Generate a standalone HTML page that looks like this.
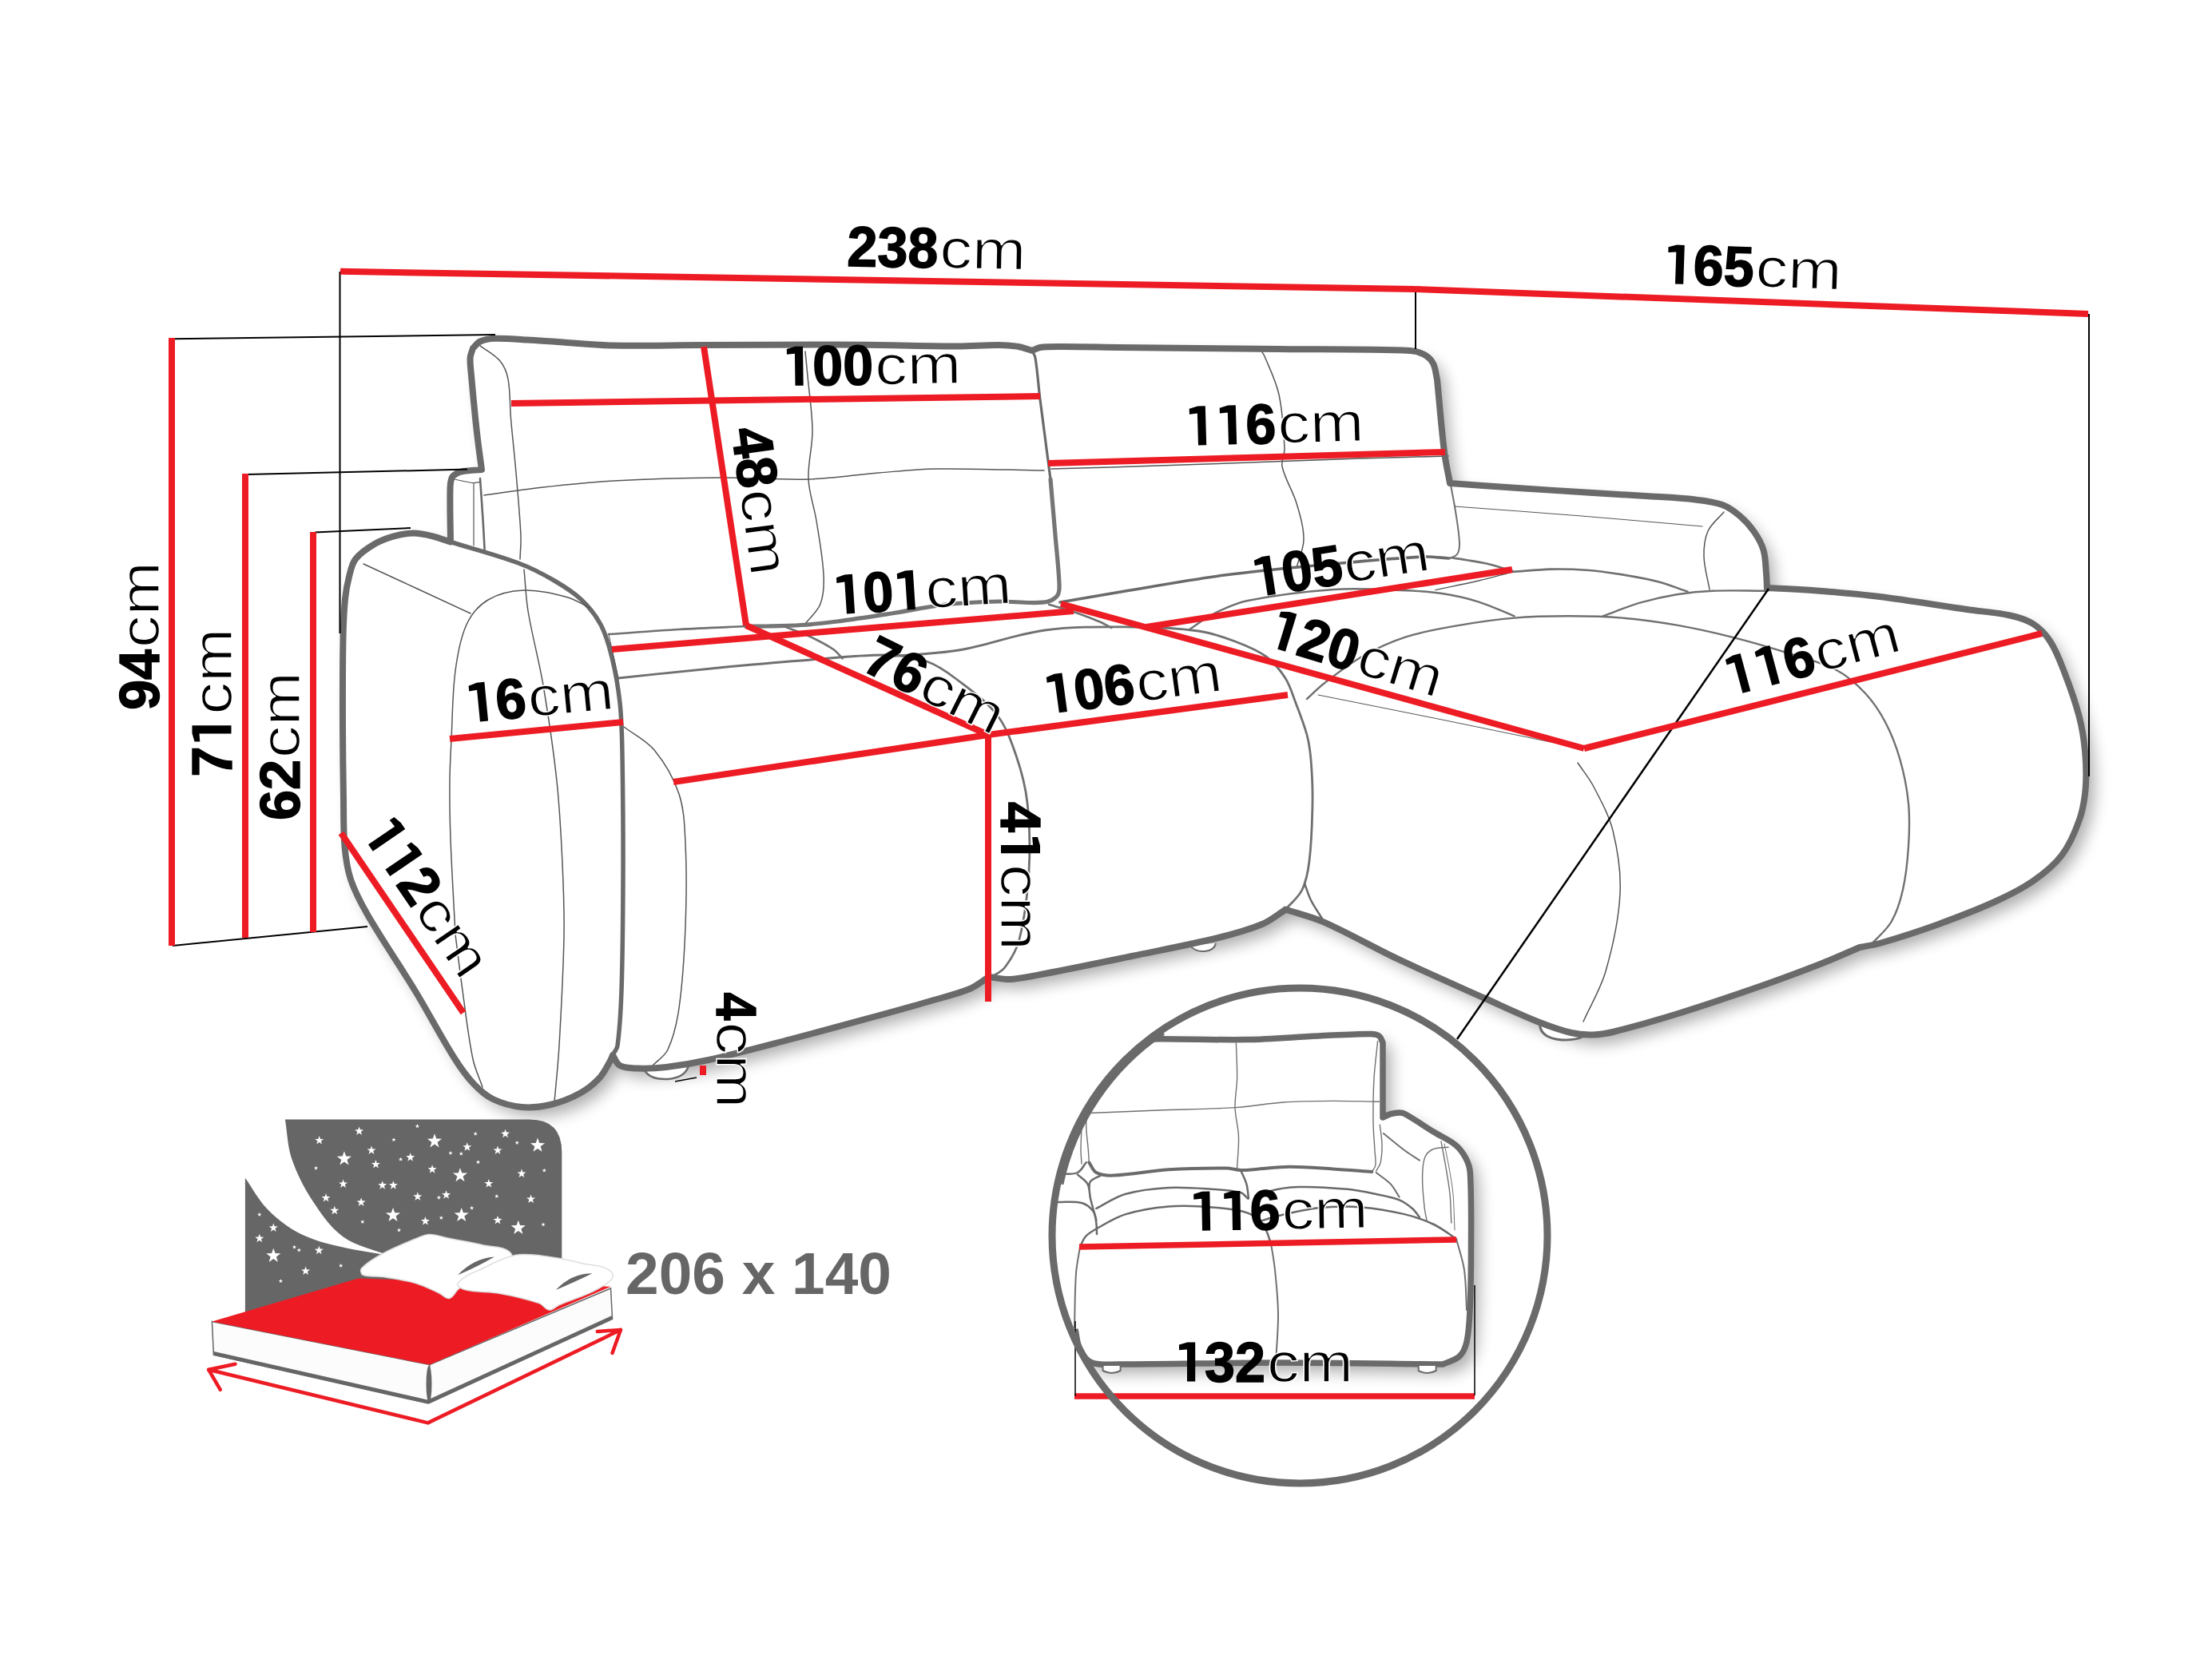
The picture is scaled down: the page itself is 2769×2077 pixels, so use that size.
<!DOCTYPE html>
<html><head><meta charset="utf-8"><title>sofa dimensions</title>
<style>
html,body{margin:0;padding:0;background:#fff;}
body{width:2769px;height:2077px;overflow:hidden;}
svg{display:block;}
text{font-family:"Liberation Sans",sans-serif;}
</style></head><body>
<svg width="2769" height="2077" viewBox="0 0 2769 2077">
<defs>
<filter id="sh" x="-5%" y="-8%" width="112%" height="118%"><feGaussianBlur in="SourceAlpha" stdDeviation="10"/><feOffset dx="10" dy="11" result="b"/><feComponentTransfer><feFuncA type="linear" slope="0.33"/></feComponentTransfer><feMerge><feMergeNode/><feMergeNode in="SourceGraphic"/></feMerge></filter>
<clipPath id="cc"><circle cx="1627" cy="1547" r="306.5"/></clipPath>
<path id="st" d="M0,-10 L2.35,-3.24 L9.51,-3.09 L3.8,1.24 L5.88,8.09 L0,4 L-5.88,8.09 L-3.8,1.24 L-9.51,-3.09 L-2.35,-3.24 Z"/>
</defs>
<rect width="2769" height="2077" fill="#fff"/>
<path d="M592.0,436.0C595.0,433.2 597.2,429.2 601.0,427.5C606.6,425.0 612.9,423.9 619.0,423.7C632.7,423.2 646.3,424.8 660.0,425.5C672.7,426.2 685.3,427.2 698.0,428.0C720.7,429.5 743.3,432.0 766.0,432.5C803.7,433.3 841.3,432.1 879.0,432.0C932.7,431.8 986.3,431.5 1040.0,431.5C1060.0,431.5 1080.0,431.8 1100.0,432.0C1133.3,432.4 1166.7,433.5 1200.0,433.5C1216.7,433.5 1233.3,431.9 1250.0,432.0C1258.4,432.1 1266.8,432.6 1275.0,434.0C1280.8,435.0 1286.3,437.3 1292.0,439.0C1295.3,437.7 1298.4,435.5 1302.0,435.0C1311.3,433.8 1320.7,434.0 1330.0,434.0C1353.3,434.0 1376.7,434.7 1400.0,435.0C1466.7,435.7 1533.3,436.3 1600.0,437.0C1655.0,437.6 1710.0,436.9 1765.0,439.0C1771.2,439.2 1777.5,441.0 1783.0,444.0C1787.5,446.5 1791.6,450.4 1794.0,455.0C1797.2,461.1 1797.3,468.3 1799.0,475.0C1802.0,505.3 1804.3,535.7 1808.0,566.0C1809.6,579.1 1812.7,592.0 1815.0,605.0C1843.3,607.0 1871.7,609.1 1900.0,611.0C1928.7,612.9 1957.3,614.7 1986.0,616.5C2010.7,618.0 2035.3,619.4 2060.0,621.0C2080.7,622.4 2101.4,623.1 2122.0,625.5C2133.5,626.8 2145.2,628.0 2156.0,632.0C2164.2,635.0 2171.4,640.4 2178.0,646.0C2184.8,651.8 2190.9,658.6 2196.0,666.0C2200.9,673.1 2205.2,680.7 2207.6,689.0C2210.3,698.4 2210.1,708.3 2211.0,718.0C2211.6,724.3 2211.7,730.7 2212.0,737.0L2214.0,736.0C2236.0,737.3 2258.0,738.3 2280.0,740.0C2304.4,741.9 2328.7,743.9 2353.0,747.0C2389.4,751.6 2425.7,757.8 2462.0,763.0C2480.0,765.6 2498.2,766.6 2516.0,770.5C2526.0,772.7 2536.4,775.4 2545.0,781.0C2553.6,786.5 2561.0,794.4 2566.5,803.0C2574.4,815.2 2579.4,829.1 2584.6,842.7C2591.5,860.5 2597.9,878.5 2602.7,897.0C2606.4,911.1 2608.7,925.5 2610.0,940.0C2611.4,955.6 2612.0,971.4 2610.7,987.0C2609.6,1000.5 2607.3,1014.2 2602.7,1027.0C2597.3,1042.3 2590.8,1057.7 2581.0,1070.6C2571.2,1083.5 2558.2,1093.8 2545.0,1103.0C2530.4,1113.2 2514.2,1121.1 2498.0,1128.5C2474.3,1139.3 2450.0,1148.5 2425.5,1157.4C2401.6,1166.1 2377.4,1173.8 2353.0,1181.0C2344.8,1183.4 2336.3,1184.3 2328.0,1186.0C2312.3,1192.7 2296.8,1199.8 2281.0,1206.0C2257.0,1215.4 2232.8,1224.5 2208.5,1233.0C2173.2,1245.3 2137.7,1257.4 2102.0,1268.5C2075.2,1276.9 2048.2,1284.7 2021.0,1291.5C2012.2,1293.7 2003.1,1295.2 1994.0,1295.5C1985.0,1295.8 1975.8,1295.1 1967.0,1293.0C1953.0,1289.7 1939.4,1284.8 1926.0,1279.5C1903.0,1270.3 1880.6,1259.6 1858.0,1249.5C1821.9,1233.4 1785.7,1217.6 1750.0,1200.7C1718.9,1186.0 1689.1,1168.5 1657.6,1154.6C1642.0,1147.7 1625.2,1143.9 1609.0,1138.5L1609.0,1139.0C1599.3,1145.0 1590.5,1152.6 1580.0,1157.0C1562.3,1164.4 1543.6,1169.4 1525.0,1174.0C1489.3,1182.8 1453.0,1189.5 1417.0,1197.0C1380.7,1204.5 1344.4,1212.1 1308.0,1219.0C1293.7,1221.7 1279.5,1225.2 1265.0,1226.0C1256.0,1226.5 1247.0,1224.0 1238.0,1223.0C1230.0,1228.0 1222.7,1234.4 1214.0,1238.0C1197.2,1244.8 1179.4,1248.9 1162.0,1254.0C1139.4,1260.6 1116.7,1266.8 1094.0,1273.0C1059.4,1282.5 1024.7,1291.9 990.0,1301.0C955.7,1309.9 921.6,1319.2 887.0,1327.0C869.5,1330.9 851.8,1333.9 834.0,1336.0C822.1,1337.4 810.0,1337.9 798.0,1337.5C790.6,1337.2 782.6,1337.5 776.0,1334.0C771.3,1331.5 770.0,1325.3 767.0,1321.0C766.0,1323.3 765.3,1325.8 764.0,1328.0C759.6,1335.5 756.0,1343.7 750.0,1350.0C742.9,1357.5 734.6,1364.1 725.5,1369.0C714.0,1375.2 701.7,1380.0 689.0,1383.0C677.3,1385.7 665.0,1387.2 653.0,1386.0C640.6,1384.8 628.2,1381.4 617.0,1376.0C607.8,1371.6 600.0,1364.4 593.0,1357.0C583.9,1347.3 576.1,1336.3 569.0,1325.0C551.7,1297.6 536.8,1268.7 520.0,1241.0C500.5,1208.7 478.9,1177.7 460.0,1145.0C451.9,1130.9 444.2,1116.4 439.0,1101.0C434.6,1087.8 432.7,1073.8 431.5,1060.0C429.7,1040.1 430.3,1020.0 430.0,1000.0C429.5,969.7 429.1,939.3 429.0,909.0C428.9,872.7 428.8,836.3 429.5,800.0C429.8,783.3 430.4,766.6 432.0,750.0C432.9,740.6 434.6,731.2 437.0,722.0C439.0,714.4 440.2,706.2 445.0,700.0C451.3,692.0 460.2,686.2 469.0,681.0C476.4,676.6 484.7,673.6 493.0,671.3C501.0,669.1 509.2,667.6 517.5,667.6C525.6,667.6 533.7,669.4 541.6,671.3C549.2,673.1 556.5,676.1 564.0,678.5C563.8,656.3 563.0,634.2 563.5,612.0C563.6,607.3 563.8,602.3 565.7,598.0C566.8,595.4 569.6,593.9 572.0,592.5C574.4,591.1 577.2,590.4 580.0,590.0C587.6,588.9 595.3,588.7 603.0,588.0C601.3,575.3 599.5,562.7 598.0,550.0C596.5,537.7 595.2,525.3 594.0,513.0C592.6,498.7 591.2,484.3 590.0,470.0C589.4,462.7 588.2,455.3 588.6,448.0C588.8,443.8 590.9,440.0 592.0,436.0Z" fill="#fff" stroke="none" filter="url(#sh)"/>
<path d="M564.0,678.5C592.3,687.3 621.2,694.6 649.0,705.0C664.6,710.8 679.6,718.6 694.0,727.0C706.0,734.0 717.9,741.5 728.0,751.0C737.5,760.0 745.9,770.4 752.0,782.0C758.7,794.8 762.6,809.0 766.0,823.0C770.6,841.7 773.9,860.8 776.0,880.0C778.3,901.2 778.6,922.6 779.0,944.0C779.9,996.0 780.2,1048.0 780.0,1100.0C779.8,1146.7 779.6,1193.4 778.0,1240.0C777.2,1263.0 776.1,1286.1 773.0,1309.0C772.4,1313.4 769.0,1317.0 767.0,1321.0" fill="none" stroke="#6a6a6a" stroke-width="5.5" stroke-linecap="round" stroke-linejoin="round" />
<path d="M570.0,1170.0C568.0,1130.0 565.5,1090.0 564.0,1050.0C563.1,1026.0 562.8,1002.0 563.0,978.0C563.1,960.7 564.1,943.3 565.0,926.0C566.5,897.3 566.2,868.5 570.0,840.0C572.6,820.3 575.7,800.1 584.0,782.0C589.7,769.6 599.2,758.0 611.0,751.0C624.3,743.0 640.5,739.5 656.0,739.0C674.6,738.4 693.1,743.2 711.0,748.0C720.6,750.6 729.0,756.7 738.0,761.0" fill="none" stroke="#555" stroke-width="1.5" stroke-linecap="round" stroke-linejoin="round" />
<path d="M570.0,1170.0C573.0,1193.3 575.7,1216.7 579.0,1240.0C583.0,1268.7 586.1,1297.6 592.0,1326.0C594.5,1338.1 600.0,1349.3 604.0,1361.0" fill="none" stroke="#555" stroke-width="1.5" stroke-linecap="round" stroke-linejoin="round" />
<path d="M656.0,713.0C657.7,730.3 658.2,747.8 661.0,765.0C666.2,796.2 674.7,826.8 680.0,858.0C686.7,897.8 692.7,937.8 697.0,978.0C700.7,1012.2 702.4,1046.6 704.0,1081.0C705.4,1111.3 706.5,1141.7 706.0,1172.0C705.2,1217.7 702.6,1263.4 700.0,1309.0C698.6,1332.7 696.0,1356.3 694.0,1380.0" fill="none" stroke="#555" stroke-width="1.5" stroke-linecap="round" stroke-linejoin="round" />
<path d="M455.0,706.0C476.7,716.0 498.3,726.0 520.0,736.0C543.0,746.6 566.0,757.3 589.0,768.0" fill="none" stroke="#555" stroke-width="1.5" stroke-linecap="round" stroke-linejoin="round" />
<path d="M601.0,599.0C602.1,615.5 603.4,632.1 604.4,648.6C605.3,662.1 605.9,675.5 606.7,689.0" fill="none" stroke="#6a6a6a" stroke-width="2.6" stroke-linecap="round" stroke-linejoin="round" />
<path d="M593.0,605.7L593.0,683.0" fill="none" stroke="#555" stroke-width="1.2" stroke-linecap="round" stroke-linejoin="round" />
<path d="M569.0,600.0C576.7,601.5 584.2,603.8 592.0,604.6C595.0,604.9 598.0,603.8 601.0,603.4" fill="none" stroke="#555" stroke-width="1.2" stroke-linecap="round" stroke-linejoin="round" />
<path d="M601.0,432.8C609.3,439.2 619.3,443.9 626.0,452.0C631.3,458.3 634.5,466.5 636.0,474.6C639.0,490.8 638.1,507.6 639.5,524.0C641.4,546.7 644.1,569.3 646.0,592.0C648.2,618.3 650.8,644.6 652.0,671.0C652.4,680.7 651.3,690.3 651.0,700.0" fill="none" stroke="#555" stroke-width="1.5" stroke-linecap="round" stroke-linejoin="round" />
<path d="M606.0,620.0C630.7,616.7 655.3,612.7 680.0,610.0C709.3,606.7 738.6,603.6 768.0,602.0C812.0,599.6 856.0,598.4 900.0,598.0C937.7,597.7 975.3,601.1 1013.0,600.0C1042.1,599.1 1071.0,594.4 1100.0,592.0C1123.6,590.1 1147.3,587.3 1171.0,587.0C1216.3,586.3 1261.7,588.3 1307.0,589.0" fill="none" stroke="#555" stroke-width="1.5" stroke-linecap="round" stroke-linejoin="round" />
<path d="M1008.0,440.0C1009.0,450.3 1010.1,460.7 1011.0,471.0C1013.1,493.7 1016.8,516.2 1017.0,539.0C1017.2,559.4 1011.1,579.6 1012.0,600.0C1012.8,617.6 1019.2,634.6 1022.0,652.0C1025.6,674.6 1029.9,697.2 1031.0,720.0C1031.6,732.1 1031.3,744.7 1027.0,756.0C1023.3,765.8 1014.3,772.7 1008.0,781.0" fill="none" stroke="#555" stroke-width="1.5" stroke-linecap="round" stroke-linejoin="round" />
<path d="M1292.0,439.0C1293.3,442.0 1295.5,444.8 1296.0,448.0C1298.8,465.2 1299.8,482.7 1302.0,500.0C1306.2,533.4 1310.7,566.7 1315.0,600.0" fill="none" stroke="#6a6a6a" stroke-width="3.2" stroke-linecap="round" stroke-linejoin="round" />
<path d="M1315.0,600.0C1317.0,623.3 1319.0,646.7 1321.0,670.0C1322.7,690.3 1325.2,710.6 1326.0,731.0C1326.2,735.7 1326.5,741.0 1324.0,745.0C1321.4,749.1 1316.6,751.7 1312.0,753.0C1304.9,755.0 1297.4,754.5 1290.0,754.5C1277.0,754.5 1264.0,752.7 1251.0,753.0C1228.3,753.5 1205.6,754.5 1183.0,757.0C1160.5,759.5 1138.4,764.5 1116.0,768.0C1093.4,771.5 1070.7,775.1 1048.0,778.0C1033.0,779.9 1018.0,781.5 1003.0,782.5C988.7,783.5 974.3,783.7 960.0,784.0C951.3,784.2 942.7,784.0 934.0,784.0" fill="none" stroke="#757575" stroke-width="5.2" stroke-linecap="round" stroke-linejoin="round" />
<path d="M934.0,784.0C906.0,785.3 878.0,786.4 850.0,788.0C820.6,789.7 791.3,792.0 762.0,794.0" fill="none" stroke="#707070" stroke-width="2.6" stroke-linecap="round" stroke-linejoin="round" />
<path d="M1316.0,587.0C1360.7,585.7 1405.3,584.5 1450.0,583.0C1501.7,581.3 1553.3,579.4 1605.0,577.5C1636.7,576.4 1668.3,575.0 1700.0,574.0C1737.7,572.8 1775.3,572.0 1813.0,571.0" fill="none" stroke="#555" stroke-width="1.5" stroke-linecap="round" stroke-linejoin="round" />
<path d="M1578.0,438.0C1579.7,440.7 1581.8,443.1 1583.0,446.0C1589.5,461.8 1597.4,477.3 1601.0,494.0C1605.8,516.3 1607.0,539.2 1608.0,562.0C1608.3,569.4 1603.4,576.8 1605.0,584.0C1608.5,600.1 1618.3,614.2 1623.0,630.0C1627.4,644.7 1632.0,659.7 1632.0,675.0C1632.0,687.4 1626.0,699.0 1623.0,711.0" fill="none" stroke="#555" stroke-width="1.5" stroke-linecap="round" stroke-linejoin="round" />
<path d="M1327.0,754.0C1350.3,750.0 1373.6,745.9 1397.0,742.0C1442.3,734.5 1487.5,726.0 1533.0,720.0C1577.8,714.0 1623.0,710.2 1668.0,706.0C1706.0,702.5 1743.9,698.8 1782.0,697.0C1792.7,696.5 1803.3,698.3 1814.0,699.0" fill="none" stroke="#6a6a6a" stroke-width="3.6" stroke-linecap="round" stroke-linejoin="round" />
<path d="M1816.0,607.0C1818.0,618.0 1820.3,628.9 1822.0,640.0C1824.0,653.3 1826.5,666.6 1827.0,680.0C1827.2,684.8 1826.7,690.1 1824.0,694.0C1821.9,697.1 1817.3,697.3 1814.0,699.0" fill="none" stroke="#707070" stroke-width="2.0" stroke-linecap="round" stroke-linejoin="round" />
<path d="M774.0,849.0C816.0,844.7 858.0,840.0 900.0,836.0C934.3,832.7 968.6,829.6 1003.0,827.0C1038.6,824.3 1074.3,819.8 1110.0,820.0C1126.9,820.1 1144.0,822.5 1160.0,828.0C1173.6,832.7 1185.6,841.3 1197.0,850.0C1215.0,863.7 1234.0,877.1 1248.0,895.0C1259.6,909.8 1265.9,928.2 1272.0,946.0C1278.6,965.1 1283.8,984.9 1286.0,1005.0C1289.1,1033.2 1289.7,1061.7 1288.0,1090.0C1286.3,1118.9 1283.0,1147.9 1276.0,1176.0C1272.8,1188.7 1265.9,1200.5 1258.0,1211.0C1253.6,1216.9 1246.0,1219.7 1240.0,1224.0" fill="none" stroke="#707070" stroke-width="2.8" stroke-linecap="round" stroke-linejoin="round" />
<path d="M980.0,783.6C991.3,788.1 1003.0,791.9 1014.0,797.0C1024.1,801.7 1034.1,806.8 1043.3,813.0C1047.7,816.0 1050.8,820.5 1054.6,824.3" fill="none" stroke="#707070" stroke-width="2.6" stroke-linecap="round" stroke-linejoin="round" />
<path d="M762.0,794.0L774.0,849.0" fill="none" stroke="#555" stroke-width="1" stroke-linecap="round" stroke-linejoin="round" />
<path d="M781.0,910.0C793.7,919.7 808.9,926.7 819.0,939.0C832.4,955.3 843.3,974.0 850.0,994.0C856.6,1013.8 857.0,1035.2 858.0,1056.0C859.7,1090.6 859.3,1125.4 858.0,1160.0C856.7,1194.1 854.8,1228.2 850.0,1262.0C847.5,1279.8 843.5,1297.7 836.0,1314.0C832.2,1322.4 823.3,1327.3 817.0,1334.0" fill="none" stroke="#555" stroke-width="1.5" stroke-linecap="round" stroke-linejoin="round" />
<path d="M1110.0,822.0C1140.0,819.3 1170.3,819.0 1200.0,814.0C1236.4,807.9 1271.4,793.9 1308.0,789.0C1344.0,784.2 1380.6,784.8 1417.0,785.0C1444.7,785.1 1472.5,786.2 1500.0,790.0C1515.8,792.2 1531.1,797.4 1546.0,803.0C1559.5,808.1 1573.3,813.5 1585.0,822.0C1594.7,829.1 1602.5,838.8 1609.0,849.0C1615.0,858.4 1618.0,869.5 1622.0,880.0C1627.0,893.2 1632.3,906.4 1636.0,920.0C1638.7,930.1 1640.1,940.6 1641.0,951.0C1642.5,969.0 1643.3,987.0 1643.0,1005.0C1642.6,1029.4 1641.9,1053.8 1639.0,1078.0C1637.5,1090.3 1635.5,1102.9 1630.0,1114.0C1625.2,1123.8 1616.0,1130.7 1609.0,1139.0" fill="none" stroke="#707070" stroke-width="2.8" stroke-linecap="round" stroke-linejoin="round" />
<path d="M1313.0,756.7C1325.0,760.4 1337.1,763.6 1349.0,767.7C1358.8,771.1 1368.5,774.9 1378.0,779.0C1382.6,781.0 1386.9,783.7 1391.4,786.0" fill="none" stroke="#707070" stroke-width="2.6" stroke-linecap="round" stroke-linejoin="round" />
<path d="M1633.0,1106.0C1635.7,1113.0 1637.7,1120.3 1641.0,1127.0C1645.0,1135.0 1650.3,1142.3 1655.0,1150.0" fill="none" stroke="#6a6a6a" stroke-width="2.5" stroke-linecap="round" stroke-linejoin="round" />
<path d="M1489.0,788.0C1499.3,781.3 1509.0,773.4 1520.0,768.0C1533.4,761.4 1547.3,754.9 1562.0,752.0C1597.6,744.9 1633.8,740.5 1670.0,738.0C1697.6,736.1 1725.4,738.0 1753.0,739.0C1770.4,739.6 1787.8,740.5 1805.0,743.0C1820.4,745.3 1835.6,748.7 1850.4,753.3C1865.9,758.1 1880.5,765.3 1895.6,771.3" fill="none" stroke="#707070" stroke-width="2.4" stroke-linecap="round" stroke-linejoin="round" />
<path d="M1636.0,875.0C1643.0,868.7 1649.5,861.8 1657.0,856.0C1672.5,844.1 1688.0,831.7 1705.0,822.0C1722.5,812.0 1740.9,803.4 1760.0,797.3C1782.1,790.2 1805.2,786.6 1828.0,782.6C1850.4,778.7 1872.9,775.5 1895.6,773.6C1918.0,771.7 1940.5,771.3 1963.0,771.3C1985.7,771.3 2008.4,771.7 2031.0,773.6C2053.8,775.5 2076.5,778.7 2099.0,782.6C2121.8,786.6 2144.5,791.7 2167.0,797.3C2189.9,803.0 2212.5,809.5 2235.0,816.6C2256.6,823.4 2278.9,828.7 2299.0,839.0C2312.7,846.0 2324.5,856.8 2335.0,868.0C2345.0,878.7 2353.2,891.1 2360.0,904.0C2367.8,918.9 2373.9,934.8 2378.5,951.0C2383.6,968.8 2387.2,987.1 2389.0,1005.5C2390.7,1023.6 2390.2,1041.9 2389.0,1060.0C2387.8,1078.1 2386.0,1096.3 2382.0,1114.0C2378.9,1127.8 2374.7,1141.8 2367.6,1154.0C2361.1,1165.1 2350.5,1173.1 2342.0,1182.7" fill="none" stroke="#707070" stroke-width="2.4" stroke-linecap="round" stroke-linejoin="round" />
<path d="M1650.0,870.0C1700.0,880.0 1750.0,889.9 1800.0,900.0C1847.0,909.5 1894.0,919.3 1941.0,929.0" fill="none" stroke="#555" stroke-width="1" stroke-linecap="round" stroke-linejoin="round" />
<path d="M1975.0,955.0C1981.7,965.0 1989.5,974.3 1995.0,985.0C2004.2,1002.8 2014.2,1020.6 2019.0,1040.0C2025.3,1065.7 2029.4,1092.5 2028.0,1119.0C2026.3,1151.8 2019.1,1184.4 2010.0,1216.0C2003.7,1238.1 1991.3,1258.0 1982.0,1279.0" fill="none" stroke="#555" stroke-width="1.5" stroke-linecap="round" stroke-linejoin="round" />
<path d="M1816.5,698.3C1822.7,699.2 1828.9,700.0 1835.0,701.0C1843.9,702.5 1852.9,703.7 1861.7,705.8C1872.4,708.3 1882.8,711.8 1893.4,714.8" fill="none" stroke="#707070" stroke-width="2.6" stroke-linecap="round" stroke-linejoin="round" />
<path d="M1797.0,738.6C1814.7,734.8 1832.4,731.4 1850.0,727.3C1864.6,723.9 1878.9,719.8 1893.4,716.0" fill="none" stroke="#555" stroke-width="1.4" stroke-linecap="round" stroke-linejoin="round" />
<path d="M1893.4,716.0C1909.2,714.9 1925.0,713.0 1940.8,712.6C1955.9,712.2 1971.0,712.6 1986.0,713.7C2001.1,714.8 2016.1,717.0 2031.0,719.4C2046.3,721.9 2061.5,724.5 2076.5,728.4C2088.8,731.6 2100.6,736.7 2112.6,740.8" fill="none" stroke="#707070" stroke-width="2.6" stroke-linecap="round" stroke-linejoin="round" />
<path d="M2006.4,771.3C2022.2,765.7 2037.7,759.1 2053.8,754.4C2068.6,750.1 2083.8,746.7 2099.0,744.2C2114.0,741.8 2129.1,740.3 2144.3,739.7C2166.1,738.8 2188.0,739.7 2209.8,739.7" fill="none" stroke="#707070" stroke-width="2.4" stroke-linecap="round" stroke-linejoin="round" />
<path d="M1821.0,634.0C1874.0,638.0 1927.0,641.7 1980.0,646.0C2030.4,650.1 2080.7,654.7 2131.0,659.0" fill="none" stroke="#555" stroke-width="1" stroke-linecap="round" stroke-linejoin="round" />
<path d="M2158.0,641.0C2151.3,649.0 2142.2,655.5 2138.0,665.0C2133.6,674.9 2132.7,686.2 2133.0,697.0C2133.4,710.9 2137.7,724.3 2140.0,738.0" fill="none" stroke="#555" stroke-width="1.5" stroke-linecap="round" stroke-linejoin="round" />
<path d="M806,1338 Q812,1352 836,1351 Q858,1349 862,1334" fill="#fff" stroke="#6a6a6a" stroke-width="2.5"/>
<path d="M1927.5,1282 Q1928,1300 1956,1302 Q1982,1302 1986,1293" fill="#fff" stroke="#6a6a6a" stroke-width="3"/>
<path d="M1489,1183 Q1496,1192 1508,1191 Q1520,1190 1522,1181" fill="#fff" stroke="#6a6a6a" stroke-width="2"/>
<path d="M592.0,436.0C595.0,433.2 597.2,429.2 601.0,427.5C606.6,425.0 612.9,423.9 619.0,423.7C632.7,423.2 646.3,424.8 660.0,425.5C672.7,426.2 685.3,427.2 698.0,428.0C720.7,429.5 743.3,432.0 766.0,432.5C803.7,433.3 841.3,432.1 879.0,432.0C932.7,431.8 986.3,431.5 1040.0,431.5C1060.0,431.5 1080.0,431.8 1100.0,432.0C1133.3,432.4 1166.7,433.5 1200.0,433.5C1216.7,433.5 1233.3,431.9 1250.0,432.0C1258.4,432.1 1266.8,432.6 1275.0,434.0C1280.8,435.0 1286.3,437.3 1292.0,439.0C1295.3,437.7 1298.4,435.5 1302.0,435.0C1311.3,433.8 1320.7,434.0 1330.0,434.0C1353.3,434.0 1376.7,434.7 1400.0,435.0C1466.7,435.7 1533.3,436.3 1600.0,437.0C1655.0,437.6 1710.0,436.9 1765.0,439.0C1771.2,439.2 1777.5,441.0 1783.0,444.0C1787.5,446.5 1791.6,450.4 1794.0,455.0C1797.2,461.1 1797.3,468.3 1799.0,475.0C1802.0,505.3 1804.3,535.7 1808.0,566.0C1809.6,579.1 1812.7,592.0 1815.0,605.0C1843.3,607.0 1871.7,609.1 1900.0,611.0C1928.7,612.9 1957.3,614.7 1986.0,616.5C2010.7,618.0 2035.3,619.4 2060.0,621.0C2080.7,622.4 2101.4,623.1 2122.0,625.5C2133.5,626.8 2145.2,628.0 2156.0,632.0C2164.2,635.0 2171.4,640.4 2178.0,646.0C2184.8,651.8 2190.9,658.6 2196.0,666.0C2200.9,673.1 2205.2,680.7 2207.6,689.0C2210.3,698.4 2210.1,708.3 2211.0,718.0C2211.6,724.3 2211.7,730.7 2212.0,737.0L2214.0,736.0C2236.0,737.3 2258.0,738.3 2280.0,740.0C2304.4,741.9 2328.7,743.9 2353.0,747.0C2389.4,751.6 2425.7,757.8 2462.0,763.0C2480.0,765.6 2498.2,766.6 2516.0,770.5C2526.0,772.7 2536.4,775.4 2545.0,781.0C2553.6,786.5 2561.0,794.4 2566.5,803.0C2574.4,815.2 2579.4,829.1 2584.6,842.7C2591.5,860.5 2597.9,878.5 2602.7,897.0C2606.4,911.1 2608.7,925.5 2610.0,940.0C2611.4,955.6 2612.0,971.4 2610.7,987.0C2609.6,1000.5 2607.3,1014.2 2602.7,1027.0C2597.3,1042.3 2590.8,1057.7 2581.0,1070.6C2571.2,1083.5 2558.2,1093.8 2545.0,1103.0C2530.4,1113.2 2514.2,1121.1 2498.0,1128.5C2474.3,1139.3 2450.0,1148.5 2425.5,1157.4C2401.6,1166.1 2377.4,1173.8 2353.0,1181.0C2344.8,1183.4 2336.3,1184.3 2328.0,1186.0C2312.3,1192.7 2296.8,1199.8 2281.0,1206.0C2257.0,1215.4 2232.8,1224.5 2208.5,1233.0C2173.2,1245.3 2137.7,1257.4 2102.0,1268.5C2075.2,1276.9 2048.2,1284.7 2021.0,1291.5C2012.2,1293.7 2003.1,1295.2 1994.0,1295.5C1985.0,1295.8 1975.8,1295.1 1967.0,1293.0C1953.0,1289.7 1939.4,1284.8 1926.0,1279.5C1903.0,1270.3 1880.6,1259.6 1858.0,1249.5C1821.9,1233.4 1785.7,1217.6 1750.0,1200.7C1718.9,1186.0 1689.1,1168.5 1657.6,1154.6C1642.0,1147.7 1625.2,1143.9 1609.0,1138.5L1609.0,1139.0C1599.3,1145.0 1590.5,1152.6 1580.0,1157.0C1562.3,1164.4 1543.6,1169.4 1525.0,1174.0C1489.3,1182.8 1453.0,1189.5 1417.0,1197.0C1380.7,1204.5 1344.4,1212.1 1308.0,1219.0C1293.7,1221.7 1279.5,1225.2 1265.0,1226.0C1256.0,1226.5 1247.0,1224.0 1238.0,1223.0C1230.0,1228.0 1222.7,1234.4 1214.0,1238.0C1197.2,1244.8 1179.4,1248.9 1162.0,1254.0C1139.4,1260.6 1116.7,1266.8 1094.0,1273.0C1059.4,1282.5 1024.7,1291.9 990.0,1301.0C955.7,1309.9 921.6,1319.2 887.0,1327.0C869.5,1330.9 851.8,1333.9 834.0,1336.0C822.1,1337.4 810.0,1337.9 798.0,1337.5C790.6,1337.2 782.6,1337.5 776.0,1334.0C771.3,1331.5 770.0,1325.3 767.0,1321.0C766.0,1323.3 765.3,1325.8 764.0,1328.0C759.6,1335.5 756.0,1343.7 750.0,1350.0C742.9,1357.5 734.6,1364.1 725.5,1369.0C714.0,1375.2 701.7,1380.0 689.0,1383.0C677.3,1385.7 665.0,1387.2 653.0,1386.0C640.6,1384.8 628.2,1381.4 617.0,1376.0C607.8,1371.6 600.0,1364.4 593.0,1357.0C583.9,1347.3 576.1,1336.3 569.0,1325.0C551.7,1297.6 536.8,1268.7 520.0,1241.0C500.5,1208.7 478.9,1177.7 460.0,1145.0C451.9,1130.9 444.2,1116.4 439.0,1101.0C434.6,1087.8 432.7,1073.8 431.5,1060.0C429.7,1040.1 430.3,1020.0 430.0,1000.0C429.5,969.7 429.1,939.3 429.0,909.0C428.9,872.7 428.8,836.3 429.5,800.0C429.8,783.3 430.4,766.6 432.0,750.0C432.9,740.6 434.6,731.2 437.0,722.0C439.0,714.4 440.2,706.2 445.0,700.0C451.3,692.0 460.2,686.2 469.0,681.0C476.4,676.6 484.7,673.6 493.0,671.3C501.0,669.1 509.2,667.6 517.5,667.6C525.6,667.6 533.7,669.4 541.6,671.3C549.2,673.1 556.5,676.1 564.0,678.5C563.8,656.3 563.0,634.2 563.5,612.0C563.6,607.3 563.8,602.3 565.7,598.0C566.8,595.4 569.6,593.9 572.0,592.5C574.4,591.1 577.2,590.4 580.0,590.0C587.6,588.9 595.3,588.7 603.0,588.0C601.3,575.3 599.5,562.7 598.0,550.0C596.5,537.7 595.2,525.3 594.0,513.0C592.6,498.7 591.2,484.3 590.0,470.0C589.4,462.7 588.2,455.3 588.6,448.0C588.8,443.8 590.9,440.0 592.0,436.0Z" fill="none" stroke="#6a6a6a" stroke-width="8" stroke-linejoin="round"/>
<line x1="425.5" y1="340.0" x2="425.5" y2="793.0" stroke="#000" stroke-width="2" stroke-linecap="butt"/>
<line x1="217.0" y1="424.2" x2="620.0" y2="419.0" stroke="#000" stroke-width="2" stroke-linecap="butt"/>
<line x1="308.0" y1="594.0" x2="585.0" y2="587.6" stroke="#000" stroke-width="2" stroke-linecap="butt"/>
<line x1="394.0" y1="666.4" x2="514.0" y2="661.0" stroke="#000" stroke-width="2" stroke-linecap="butt"/>
<line x1="216.0" y1="1184.0" x2="460.0" y2="1160.0" stroke="#000" stroke-width="2" stroke-linecap="butt"/>
<line x1="1772.0" y1="365.0" x2="1772.0" y2="437.0" stroke="#000" stroke-width="2" stroke-linecap="butt"/>
<line x1="2615.0" y1="393.0" x2="2615.0" y2="972.0" stroke="#000" stroke-width="2" stroke-linecap="butt"/>
<line x1="2214.0" y1="737.0" x2="1824.0" y2="1301.0" stroke="#000" stroke-width="2.5" stroke-linecap="butt"/>
<line x1="426.0" y1="339.8" x2="1772.0" y2="362.0" stroke="#ed1c24" stroke-width="8" stroke-linecap="butt"/>
<line x1="1772.0" y1="362.0" x2="2614.0" y2="393.0" stroke="#ed1c24" stroke-width="8" stroke-linecap="butt"/>
<line x1="215.0" y1="423.0" x2="215.0" y2="1184.0" stroke="#ed1c24" stroke-width="8" stroke-linecap="butt"/>
<line x1="307.0" y1="593.0" x2="307.0" y2="1174.0" stroke="#ed1c24" stroke-width="8" stroke-linecap="butt"/>
<line x1="392.0" y1="666.0" x2="392.0" y2="1167.0" stroke="#ed1c24" stroke-width="8" stroke-linecap="butt"/>
<line x1="640.0" y1="505.0" x2="1302.0" y2="496.0" stroke="#ed1c24" stroke-width="8" stroke-linecap="butt"/>
<line x1="881.0" y1="434.0" x2="934.0" y2="783.0" stroke="#ed1c24" stroke-width="8" stroke-linecap="butt"/>
<line x1="1312.0" y1="580.0" x2="1809.0" y2="566.0" stroke="#ed1c24" stroke-width="8" stroke-linecap="butt"/>
<line x1="766.0" y1="813.0" x2="1344.0" y2="765.0" stroke="#ed1c24" stroke-width="8" stroke-linecap="butt"/>
<line x1="934.0" y1="783.0" x2="1237.0" y2="920.0" stroke="#ed1c24" stroke-width="8" stroke-linecap="butt"/>
<line x1="843.0" y1="979.0" x2="1237.0" y2="920.0" stroke="#ed1c24" stroke-width="8" stroke-linecap="butt"/>
<line x1="1237.0" y1="920.0" x2="1612.0" y2="870.0" stroke="#ed1c24" stroke-width="8" stroke-linecap="butt"/>
<line x1="1237.0" y1="917.0" x2="1237.0" y2="1254.0" stroke="#ed1c24" stroke-width="8" stroke-linecap="butt"/>
<line x1="1435.0" y1="785.0" x2="1893.0" y2="713.0" stroke="#ed1c24" stroke-width="8" stroke-linecap="butt"/>
<line x1="1328.0" y1="756.0" x2="1983.0" y2="937.0" stroke="#ed1c24" stroke-width="8" stroke-linecap="butt"/>
<line x1="1983.0" y1="937.0" x2="2556.0" y2="793.0" stroke="#ed1c24" stroke-width="8" stroke-linecap="butt"/>
<line x1="563.0" y1="925.0" x2="780.0" y2="904.0" stroke="#ed1c24" stroke-width="8" stroke-linecap="butt"/>
<line x1="427.0" y1="1043.0" x2="580.0" y2="1268.0" stroke="#ed1c24" stroke-width="8" stroke-linecap="butt"/>
<rect x="876" y="1334" width="8" height="12" fill="#ed1c24"/>
<line x1="845.0" y1="1354.0" x2="872.0" y2="1349.0" stroke="#000" stroke-width="1.5" stroke-linecap="butt"/>
<g transform="translate(1060.0,333.0) rotate(1.15)" fill="#000">
<text x="0.0" y="0" font-weight="700" stroke="#000" stroke-width="1.4" font-size="71.0" textLength="38.0" lengthAdjust="spacingAndGlyphs">2</text>
<text x="38.0" y="0" font-weight="700" stroke="#000" stroke-width="1.4" font-size="71.0" textLength="38.0" lengthAdjust="spacingAndGlyphs">3</text>
<text x="76.0" y="0" font-weight="700" stroke="#000" stroke-width="1.4" font-size="71.0" textLength="38.0" lengthAdjust="spacingAndGlyphs">8</text>
<text x="116.0" y="0" font-size="69.5" textLength="108.0" lengthAdjust="spacingAndGlyphs" stroke="#fff" stroke-width="1.4">cm</text>
</g>
<g transform="translate(2081.0,355.0) rotate(1.90)" fill="#000">
<path transform="translate(0.0,0)" d="M16,0 L16,-40 L6,-39.2 L6,-46 L16.5,-49 L26.2,-49 L26.2,0 Z"/>
<text x="38.0" y="0" font-weight="700" stroke="#000" stroke-width="1.4" font-size="71.0" textLength="38.0" lengthAdjust="spacingAndGlyphs">6</text>
<text x="76.0" y="0" font-weight="700" stroke="#000" stroke-width="1.4" font-size="71.0" textLength="38.0" lengthAdjust="spacingAndGlyphs">5</text>
<text x="116.0" y="0" font-size="69.5" textLength="108.0" lengthAdjust="spacingAndGlyphs" stroke="#fff" stroke-width="1.4">cm</text>
</g>
<g transform="translate(979.5,483.0) rotate(-0.80)" fill="#000">
<path transform="translate(0.0,0)" d="M16,0 L16,-40 L6,-39.2 L6,-46 L16.5,-49 L26.2,-49 L26.2,0 Z"/>
<text x="38.0" y="0" font-weight="700" stroke="#000" stroke-width="1.4" font-size="71.0" textLength="38.0" lengthAdjust="spacingAndGlyphs">0</text>
<text x="76.0" y="0" font-weight="700" stroke="#000" stroke-width="1.4" font-size="71.0" textLength="38.0" lengthAdjust="spacingAndGlyphs">0</text>
<text x="116.0" y="0" font-size="69.5" textLength="108.0" lengthAdjust="spacingAndGlyphs" stroke="#fff" stroke-width="1.4">cm</text>
</g>
<g transform="translate(1484.0,558.0) rotate(-1.60)" fill="#000">
<path transform="translate(0.0,0)" d="M16,0 L16,-40 L6,-39.2 L6,-46 L16.5,-49 L26.2,-49 L26.2,0 Z"/>
<path transform="translate(38.0,0)" d="M16,0 L16,-40 L6,-39.2 L6,-46 L16.5,-49 L26.2,-49 L26.2,0 Z"/>
<text x="76.0" y="0" font-weight="700" stroke="#000" stroke-width="1.4" font-size="71.0" textLength="38.0" lengthAdjust="spacingAndGlyphs">6</text>
<text x="116.0" y="0" font-size="69.5" textLength="108.0" lengthAdjust="spacingAndGlyphs" stroke="#fff" stroke-width="1.4">cm</text>
</g>
<g transform="translate(1044.0,769.5) rotate(-3.80)" fill="#000">
<path transform="translate(0.0,0)" d="M16,0 L16,-40 L6,-39.2 L6,-46 L16.5,-49 L26.2,-49 L26.2,0 Z"/>
<text x="38.0" y="0" font-weight="700" stroke="#000" stroke-width="1.4" font-size="71.0" textLength="38.0" lengthAdjust="spacingAndGlyphs">0</text>
<path transform="translate(76.0,0)" d="M16,0 L16,-40 L6,-39.2 L6,-46 L16.5,-49 L26.2,-49 L26.2,0 Z"/>
<text x="116.0" y="0" font-size="69.5" textLength="108.0" lengthAdjust="spacingAndGlyphs" stroke="#fff" stroke-width="1.4">cm</text>
</g>
<g transform="translate(1571.0,748.0) rotate(-8.90)" fill="#000">
<path transform="translate(0.0,0)" d="M16,0 L16,-40 L6,-39.2 L6,-46 L16.5,-49 L26.2,-49 L26.2,0 Z"/>
<text x="38.0" y="0" font-weight="700" stroke="#000" stroke-width="1.4" font-size="71.0" textLength="38.0" lengthAdjust="spacingAndGlyphs">0</text>
<text x="76.0" y="0" font-weight="700" stroke="#000" stroke-width="1.4" font-size="71.0" textLength="38.0" lengthAdjust="spacingAndGlyphs">5</text>
<text x="116.0" y="0" font-size="69.5" textLength="108.0" lengthAdjust="spacingAndGlyphs" stroke="#fff" stroke-width="1.4">cm</text>
</g>
<g transform="translate(1584.0,808.0) rotate(17.00)" fill="#000">
<path transform="translate(0.0,0)" d="M16,0 L16,-40 L6,-39.2 L6,-46 L16.5,-49 L26.2,-49 L26.2,0 Z"/>
<text x="38.0" y="0" font-weight="700" stroke="#000" stroke-width="1.4" font-size="71.0" textLength="38.0" lengthAdjust="spacingAndGlyphs">2</text>
<text x="76.0" y="0" font-weight="700" stroke="#000" stroke-width="1.4" font-size="71.0" textLength="38.0" lengthAdjust="spacingAndGlyphs">0</text>
<text x="116.0" y="0" font-size="69.5" textLength="108.0" lengthAdjust="spacingAndGlyphs" stroke="#fff" stroke-width="1.4">cm</text>
</g>
<g transform="translate(1310.0,894.5) rotate(-7.70)" fill="#000">
<path transform="translate(0.0,0)" d="M16,0 L16,-40 L6,-39.2 L6,-46 L16.5,-49 L26.2,-49 L26.2,0 Z"/>
<text x="38.0" y="0" font-weight="700" stroke="#000" stroke-width="1.4" font-size="71.0" textLength="38.0" lengthAdjust="spacingAndGlyphs">0</text>
<text x="76.0" y="0" font-weight="700" stroke="#000" stroke-width="1.4" font-size="71.0" textLength="38.0" lengthAdjust="spacingAndGlyphs">6</text>
<text x="116.0" y="0" font-size="69.5" textLength="108.0" lengthAdjust="spacingAndGlyphs" stroke="#fff" stroke-width="1.4">cm</text>
</g>
<g transform="translate(1077.0,838.0) rotate(26.50)" fill="#000">
<text x="0.0" y="0" font-weight="700" stroke="#000" stroke-width="1.4" font-size="71.0" textLength="38.0" lengthAdjust="spacingAndGlyphs">7</text>
<text x="38.0" y="0" font-weight="700" stroke="#000" stroke-width="1.4" font-size="71.0" textLength="38.0" lengthAdjust="spacingAndGlyphs">6</text>
<text x="78.0" y="0" font-size="69.5" textLength="108.0" lengthAdjust="spacingAndGlyphs" stroke="#fff" stroke-width="1.4">cm</text>
</g>
<g transform="translate(2166.0,872.0) rotate(-15.00)" fill="#000">
<path transform="translate(0.0,0)" d="M16,0 L16,-40 L6,-39.2 L6,-46 L16.5,-49 L26.2,-49 L26.2,0 Z"/>
<path transform="translate(38.0,0)" d="M16,0 L16,-40 L6,-39.2 L6,-46 L16.5,-49 L26.2,-49 L26.2,0 Z"/>
<text x="76.0" y="0" font-weight="700" stroke="#000" stroke-width="1.4" font-size="71.0" textLength="38.0" lengthAdjust="spacingAndGlyphs">6</text>
<text x="116.0" y="0" font-size="69.5" textLength="108.0" lengthAdjust="spacingAndGlyphs" stroke="#fff" stroke-width="1.4">cm</text>
</g>
<g transform="translate(585.0,905.0) rotate(-5.50)" fill="#000">
<path transform="translate(0.0,0)" d="M16,0 L16,-40 L6,-39.2 L6,-46 L16.5,-49 L26.2,-49 L26.2,0 Z"/>
<text x="38.0" y="0" font-weight="700" stroke="#000" stroke-width="1.4" font-size="71.0" textLength="38.0" lengthAdjust="spacingAndGlyphs">6</text>
<text x="78.0" y="0" font-size="69.5" textLength="108.0" lengthAdjust="spacingAndGlyphs" stroke="#fff" stroke-width="1.4">cm</text>
</g>
<g transform="translate(452.0,1044.0) rotate(55.70)" fill="#000">
<path transform="translate(0.0,0)" d="M16,0 L16,-40 L6,-39.2 L6,-46 L16.5,-49 L26.2,-49 L26.2,0 Z"/>
<path transform="translate(38.0,0)" d="M16,0 L16,-40 L6,-39.2 L6,-46 L16.5,-49 L26.2,-49 L26.2,0 Z"/>
<text x="76.0" y="0" font-weight="700" stroke="#000" stroke-width="1.4" font-size="71.0" textLength="38.0" lengthAdjust="spacingAndGlyphs">2</text>
<text x="116.0" y="0" font-size="69.5" textLength="108.0" lengthAdjust="spacingAndGlyphs" stroke="#fff" stroke-width="1.4">cm</text>
</g>
<g transform="translate(1253.0,1004.0) rotate(90.00)" fill="#000">
<text x="0.0" y="0" font-weight="700" stroke="#000" stroke-width="1.4" font-size="71.0" textLength="38.0" lengthAdjust="spacingAndGlyphs">4</text>
<path transform="translate(38.0,0)" d="M16,0 L16,-40 L6,-39.2 L6,-46 L16.5,-49 L26.2,-49 L26.2,0 Z"/>
<text x="78.0" y="0" font-size="69.5" textLength="108.0" lengthAdjust="spacingAndGlyphs" stroke="#fff" stroke-width="1.4">cm</text>
</g>
<g transform="translate(897.0,1242.5) rotate(90.00)" fill="#000">
<text x="0.0" y="0" font-weight="700" stroke="#000" stroke-width="1.4" font-size="71.0" textLength="35.0" lengthAdjust="spacingAndGlyphs">4</text>
<text x="37.0" y="0" font-size="69.5" textLength="108.0" lengthAdjust="spacingAndGlyphs" stroke="#fff" stroke-width="1.4">cm</text>
</g>
<g transform="translate(915.5,538.0) rotate(82.30)" fill="#000">
<text x="0.0" y="0" font-weight="700" stroke="#000" stroke-width="1.4" font-size="71.0" textLength="38.0" lengthAdjust="spacingAndGlyphs">4</text>
<text x="38.0" y="0" font-weight="700" stroke="#000" stroke-width="1.4" font-size="71.0" textLength="38.0" lengthAdjust="spacingAndGlyphs">8</text>
<text x="78.0" y="0" font-size="69.5" textLength="108.0" lengthAdjust="spacingAndGlyphs" stroke="#fff" stroke-width="1.4">cm</text>
</g>
<g transform="translate(199.0,889.0) rotate(-90.00)" fill="#000">
<text x="0.0" y="0" font-weight="700" stroke="#000" stroke-width="1.4" font-size="71.0" textLength="38.0" lengthAdjust="spacingAndGlyphs">9</text>
<text x="38.0" y="0" font-weight="700" stroke="#000" stroke-width="1.4" font-size="71.0" textLength="38.0" lengthAdjust="spacingAndGlyphs">4</text>
<text x="78.0" y="0" font-size="69.5" textLength="108.0" lengthAdjust="spacingAndGlyphs" stroke="#fff" stroke-width="1.4">cm</text>
</g>
<g transform="translate(289.5,972.5) rotate(-90.00)" fill="#000">
<text x="0.0" y="0" font-weight="700" stroke="#000" stroke-width="1.4" font-size="71.0" textLength="38.0" lengthAdjust="spacingAndGlyphs">7</text>
<path transform="translate(38.0,0)" d="M16,0 L16,-40 L6,-39.2 L6,-46 L16.5,-49 L26.2,-49 L26.2,0 Z"/>
<text x="78.0" y="0" font-size="69.5" textLength="108.0" lengthAdjust="spacingAndGlyphs" stroke="#fff" stroke-width="1.4">cm</text>
</g>
<g transform="translate(374.5,1027.0) rotate(-90.00)" fill="#000">
<text x="0.0" y="0" font-weight="700" stroke="#000" stroke-width="1.4" font-size="71.0" textLength="38.0" lengthAdjust="spacingAndGlyphs">6</text>
<text x="38.0" y="0" font-weight="700" stroke="#000" stroke-width="1.4" font-size="71.0" textLength="38.0" lengthAdjust="spacingAndGlyphs">2</text>
<text x="78.0" y="0" font-size="69.5" textLength="108.0" lengthAdjust="spacingAndGlyphs" stroke="#fff" stroke-width="1.4">cm</text>
</g>
<circle cx="1627" cy="1547" r="310" fill="#fff" stroke="none"/>
<g clip-path="url(#cc)">
<path d="M1300.0,1306.0C1333.3,1304.7 1366.7,1303.1 1400.0,1302.0C1417.9,1301.4 1435.8,1300.7 1453.7,1300.7C1489.1,1300.6 1524.6,1302.3 1560.0,1301.6C1590.0,1301.0 1620.0,1298.4 1650.0,1297.0C1671.8,1296.0 1693.6,1294.4 1715.5,1294.4C1719.2,1294.4 1723.3,1294.9 1726.4,1297.0C1729.0,1298.8 1729.5,1302.5 1731.0,1305.2L1731.0,1399.0C1734.3,1397.6 1737.4,1395.7 1740.8,1394.7C1744.3,1393.7 1748.0,1393.0 1751.7,1393.0C1754.2,1393.0 1756.8,1393.5 1759.0,1394.7C1771.4,1401.6 1782.9,1409.9 1795.0,1417.3C1804.0,1422.8 1814.0,1426.9 1822.2,1433.6C1827.5,1438.0 1831.7,1443.9 1834.9,1450.0C1837.8,1455.5 1839.9,1461.7 1840.3,1468.0C1842.1,1498.6 1841.6,1529.3 1841.5,1560.0C1841.5,1586.7 1841.2,1613.4 1840.0,1640.0C1839.4,1653.4 1838.9,1666.9 1836.0,1680.0C1834.5,1686.5 1831.9,1693.4 1827.0,1698.0C1821.3,1703.3 1813.0,1704.7 1806.0,1708.0C1737.3,1707.3 1668.7,1706.0 1600.0,1706.0C1533.3,1706.0 1466.7,1708.0 1400.0,1708.0C1389.0,1708.0 1377.3,1709.9 1367.0,1706.0C1360.2,1703.4 1355.3,1696.5 1352.0,1690.0C1348.0,1682.0 1348.0,1672.7 1346.0,1664.0 L1200,1660 L1200,1300 Z" fill="#fff" stroke="none" filter="url(#sh)"/>
<path d="M1364.0,1393.5C1392.7,1392.3 1421.3,1391.1 1450.0,1390.0C1482.0,1388.8 1514.0,1388.6 1546.0,1386.6C1566.4,1385.3 1586.6,1381.4 1607.0,1380.0C1627.5,1378.6 1648.0,1378.5 1668.5,1378.4C1687.8,1378.3 1707.1,1379.0 1726.4,1379.3" fill="none" stroke="#707070" stroke-width="1.4" stroke-linecap="round" stroke-linejoin="round" />
<path d="M1547.4,1306.0C1547.8,1320.7 1548.9,1335.3 1548.6,1350.0C1548.4,1362.2 1545.7,1374.4 1546.0,1386.6C1546.3,1398.7 1550.1,1410.6 1550.5,1422.7C1551.0,1436.0 1549.2,1449.2 1548.6,1462.5" fill="none" stroke="#707070" stroke-width="1.4" stroke-linecap="round" stroke-linejoin="round" />
<path d="M1364.0,1393.5C1362.6,1397.2 1359.8,1400.7 1359.7,1404.7C1359.3,1416.8 1361.5,1428.8 1362.4,1440.8C1362.7,1445.6 1363.0,1450.5 1363.3,1455.3" fill="none" stroke="#707070" stroke-width="1.4" stroke-linecap="round" stroke-linejoin="round" />
<path d="M1354.0,1410.0C1353.7,1420.0 1353.0,1430.0 1353.0,1440.0C1353.0,1445.7 1353.7,1451.3 1354.0,1457.0" fill="none" stroke="#707070" stroke-width="1.4" stroke-linecap="round" stroke-linejoin="round" />
<path d="M1363.3,1455.3C1366.3,1459.5 1367.7,1465.6 1372.3,1468.0C1378.8,1471.4 1386.7,1471.9 1394.0,1471.6C1417.0,1470.7 1439.7,1465.8 1462.7,1464.3C1486.8,1462.7 1510.9,1462.3 1535.0,1462.5C1541.1,1462.5 1546.9,1464.7 1553.0,1465.0C1559.0,1465.3 1565.0,1464.4 1571.0,1464.0C1585.3,1463.0 1599.6,1460.8 1614.0,1460.7C1632.2,1460.6 1650.3,1462.3 1668.5,1463.4C1684.8,1464.4 1701.0,1465.8 1717.3,1467.0" fill="none" stroke="#6a6a6a" stroke-width="4" stroke-linecap="round" stroke-linejoin="round" />
<path d="M1724.6,1303.4C1723.1,1319.1 1720.9,1334.7 1720.0,1350.4C1719.0,1368.5 1718.8,1386.6 1719.0,1404.7C1719.1,1416.8 1720.4,1428.8 1721.0,1440.8C1721.3,1446.9 1722.6,1453.0 1721.8,1459.0C1721.4,1462.0 1718.8,1464.3 1717.3,1467.0" fill="none" stroke="#707070" stroke-width="1.4" stroke-linecap="round" stroke-linejoin="round" />
<path d="M1727.3,1408.3C1728.2,1416.1 1729.8,1423.9 1730.0,1431.8C1730.2,1439.7 1729.8,1447.6 1728.2,1455.3C1727.4,1459.2 1724.5,1462.4 1722.7,1466.0" fill="none" stroke="#707070" stroke-width="1.4" stroke-linecap="round" stroke-linejoin="round" />
<path d="M1330.7,1469.8C1336.8,1469.2 1343.5,1470.7 1349.0,1468.0C1354.0,1465.5 1356.1,1459.5 1359.7,1455.3" fill="none" stroke="#6a6a6a" stroke-width="2.5" stroke-linecap="round" stroke-linejoin="round" />
<path d="M1349.0,1470.7C1353.2,1474.6 1358.8,1477.4 1361.5,1482.4C1364.4,1487.8 1363.6,1494.5 1365.0,1500.5C1367.2,1509.6 1369.9,1518.6 1372.3,1527.6" fill="none" stroke="#6a6a6a" stroke-width="2.5" stroke-linecap="round" stroke-linejoin="round" />
<path d="M1377.8,1471.6C1373.5,1474.1 1368.3,1475.3 1365.0,1479.0C1363.0,1481.3 1363.9,1485.0 1363.3,1488.0" fill="none" stroke="#6a6a6a" stroke-width="2.5" stroke-linecap="round" stroke-linejoin="round" />
<path d="M1323.5,1505.0C1333.7,1505.3 1344.2,1503.4 1354.0,1506.0C1359.9,1507.5 1365.1,1511.9 1368.7,1516.8C1371.6,1520.7 1371.6,1526.2 1372.3,1531.0C1373.0,1535.6 1372.8,1540.3 1373.0,1545.0" fill="none" stroke="#6a6a6a" stroke-width="2.5" stroke-linecap="round" stroke-linejoin="round" />
<path d="M1372.3,1513.0C1384.4,1507.0 1395.5,1498.7 1408.5,1495.0C1426.1,1490.0 1444.5,1488.0 1462.7,1487.0C1480.8,1486.0 1498.9,1487.6 1517.0,1488.8C1529.1,1489.6 1541.3,1490.0 1553.0,1493.0C1556.8,1494.0 1559.0,1498.0 1562.0,1500.5" fill="none" stroke="#6a6a6a" stroke-width="2.5" stroke-linecap="round" stroke-linejoin="round" />
<path d="M1553.0,1465.0C1555.5,1470.8 1558.7,1476.3 1560.4,1482.4C1562.1,1488.3 1562.1,1494.5 1563.0,1500.5" fill="none" stroke="#6a6a6a" stroke-width="2.5" stroke-linecap="round" stroke-linejoin="round" />
<path d="M1571.2,1502.0C1577.1,1498.5 1582.4,1493.4 1589.0,1491.5C1600.8,1488.0 1613.2,1486.3 1625.5,1486.0C1645.9,1485.4 1666.3,1486.9 1686.6,1488.8C1698.8,1489.9 1710.7,1492.5 1722.7,1495.0C1732.5,1497.0 1742.4,1498.6 1751.7,1502.3C1757.7,1504.7 1763.1,1508.8 1768.0,1513.0C1771.6,1516.1 1774.0,1520.3 1777.0,1524.0" fill="none" stroke="#6a6a6a" stroke-width="2.5" stroke-linecap="round" stroke-linejoin="round" />
<path d="M1722.7,1468.0C1728.7,1472.8 1735.5,1476.8 1740.8,1482.4C1745.3,1487.2 1748.1,1493.3 1751.7,1498.7" fill="none" stroke="#6a6a6a" stroke-width="2" stroke-linecap="round" stroke-linejoin="round" />
<path d="M1352.0,1561.0C1354.3,1556.7 1355.7,1551.7 1359.0,1548.0C1362.6,1544.0 1367.5,1541.2 1372.3,1538.5C1384.1,1531.9 1395.6,1524.4 1408.5,1520.4C1426.0,1515.0 1444.4,1512.0 1462.7,1510.5C1480.7,1509.0 1499.0,1509.9 1517.0,1511.4C1532.1,1512.6 1547.7,1513.4 1562.0,1518.6C1570.1,1521.5 1576.8,1528.1 1582.0,1535.0C1586.7,1541.2 1588.0,1549.4 1591.0,1556.6" fill="none" stroke="#6a6a6a" stroke-width="2.5" stroke-linecap="round" stroke-linejoin="round" />
<path d="M1575.0,1530.0C1582.2,1527.7 1589.2,1524.7 1596.6,1523.0C1614.4,1518.8 1632.2,1514.3 1650.4,1512.3C1668.4,1510.4 1686.6,1510.1 1704.7,1511.4C1723.0,1512.8 1741.2,1516.1 1759.0,1520.4C1771.4,1523.4 1783.5,1527.5 1795.0,1533.0C1805.0,1537.8 1813.7,1545.0 1823.0,1551.0" fill="none" stroke="#6a6a6a" stroke-width="2.5" stroke-linecap="round" stroke-linejoin="round" />
<path d="M1352.0,1561.0C1350.3,1572.0 1347.8,1582.9 1347.0,1594.0C1345.4,1616.6 1345.7,1639.3 1345.0,1662.0" fill="none" stroke="#707070" stroke-width="2" stroke-linecap="round" stroke-linejoin="round" />
<path d="M1823.0,1551.0C1826.3,1564.0 1831.1,1576.7 1833.0,1590.0C1835.4,1606.5 1835.0,1623.3 1836.0,1640.0" fill="none" stroke="#707070" stroke-width="2" stroke-linecap="round" stroke-linejoin="round" />
<path d="M1591.0,1556.6C1592.7,1567.7 1594.9,1578.8 1596.0,1590.0C1597.9,1608.3 1599.8,1626.6 1600.0,1645.0C1600.2,1665.4 1598.0,1685.7 1597.0,1706.0" fill="none" stroke="#707070" stroke-width="2" stroke-linecap="round" stroke-linejoin="round" />
<path d="M1731.8,1419.0C1740.9,1426.3 1749.7,1433.9 1759.0,1440.8C1764.8,1445.1 1771.0,1448.7 1777.0,1452.6" fill="none" stroke="#707070" stroke-width="2" stroke-linecap="round" stroke-linejoin="round" />
<path d="M1813.0,1436.3C1806.4,1437.2 1799.3,1436.2 1793.3,1439.0C1788.8,1441.1 1784.9,1445.3 1783.3,1450.0C1780.4,1458.6 1780.6,1468.0 1780.6,1477.0C1780.6,1489.0 1782.0,1501.0 1783.3,1513.0C1783.8,1517.9 1785.1,1522.7 1786.0,1527.6" fill="none" stroke="#707070" stroke-width="1.4" stroke-linecap="round" stroke-linejoin="round" />
<path d="M1804.0,1429.0C1805.8,1439.0 1807.8,1449.0 1809.5,1459.0C1811.5,1471.0 1813.8,1482.9 1815.0,1495.0C1816.2,1507.0 1816.2,1519.0 1816.8,1531.0" fill="none" stroke="#707070" stroke-width="1.4" stroke-linecap="round" stroke-linejoin="round" />
<path d="M1808.0,1432.0C1810.0,1442.0 1812.2,1452.0 1814.0,1462.0C1815.9,1473.0 1818.0,1483.9 1819.0,1495.0C1820.3,1510.0 1820.3,1525.0 1821.0,1540.0" fill="none" stroke="#707070" stroke-width="1" stroke-linecap="round" stroke-linejoin="round" />
<path d="M1300.0,1306.0C1333.3,1304.7 1366.7,1303.1 1400.0,1302.0C1417.9,1301.4 1435.8,1300.7 1453.7,1300.7C1489.1,1300.6 1524.6,1302.3 1560.0,1301.6C1590.0,1301.0 1620.0,1298.4 1650.0,1297.0C1671.8,1296.0 1693.6,1294.4 1715.5,1294.4C1719.2,1294.4 1723.3,1294.9 1726.4,1297.0C1729.0,1298.8 1729.5,1302.5 1731.0,1305.2L1731.0,1399.0C1734.3,1397.6 1737.4,1395.7 1740.8,1394.7C1744.3,1393.7 1748.0,1393.0 1751.7,1393.0C1754.2,1393.0 1756.8,1393.5 1759.0,1394.7C1771.4,1401.6 1782.9,1409.9 1795.0,1417.3C1804.0,1422.8 1814.0,1426.9 1822.2,1433.6C1827.5,1438.0 1831.7,1443.9 1834.9,1450.0C1837.8,1455.5 1839.9,1461.7 1840.3,1468.0C1842.1,1498.6 1841.6,1529.3 1841.5,1560.0C1841.5,1586.7 1841.2,1613.4 1840.0,1640.0C1839.4,1653.4 1838.9,1666.9 1836.0,1680.0C1834.5,1686.5 1831.9,1693.4 1827.0,1698.0C1821.3,1703.3 1813.0,1704.7 1806.0,1708.0C1737.3,1707.3 1668.7,1706.0 1600.0,1706.0C1533.3,1706.0 1466.7,1708.0 1400.0,1708.0C1389.0,1708.0 1377.3,1709.9 1367.0,1706.0C1360.2,1703.4 1355.3,1696.5 1352.0,1690.0C1348.0,1682.0 1348.0,1672.7 1346.0,1664.0" fill="none" stroke="#6a6a6a" stroke-width="7.5" stroke-linejoin="round"/>
<path d="M1380.6,1710 v6 q11,6 22,0 v-6" fill="#fff" stroke="#6a6a6a" stroke-width="2"/>
<path d="M1775.7,1710 v6 q11,6 22,0 v-6" fill="#fff" stroke="#6a6a6a" stroke-width="2"/>
</g>
<line x1="1351.0" y1="1561.0" x2="1823.0" y2="1552.0" stroke="#ed1c24" stroke-width="7.5" stroke-linecap="butt"/>
<line x1="1345.0" y1="1748.0" x2="1846.0" y2="1748.0" stroke="#ed1c24" stroke-width="7.5" stroke-linecap="butt"/>
<line x1="1346.0" y1="1654.0" x2="1346.0" y2="1748.0" stroke="#000" stroke-width="1.5" stroke-linecap="butt"/>
<line x1="1846.0" y1="1609.0" x2="1846.0" y2="1747.0" stroke="#000" stroke-width="1.5" stroke-linecap="butt"/>
<path d="M1457.0,1294.0 A304,304 0 0 0 1329.6,1482.8" fill="none" stroke="#6a6a6a" stroke-width="3.5"/>
<circle cx="1627" cy="1547" r="310" fill="none" stroke="#6a6a6a" stroke-width="9"/>
<g transform="translate(1489.0,1541.0) rotate(-1.00)" fill="#000">
<path transform="translate(0.0,0)" d="M16,0 L16,-40 L6,-39.2 L6,-46 L16.5,-49 L26.2,-49 L26.2,0 Z"/>
<path transform="translate(38.0,0)" d="M16,0 L16,-40 L6,-39.2 L6,-46 L16.5,-49 L26.2,-49 L26.2,0 Z"/>
<text x="76.0" y="0" font-weight="700" stroke="#000" stroke-width="1.4" font-size="71.0" textLength="38.0" lengthAdjust="spacingAndGlyphs">6</text>
<text x="116.0" y="0" font-size="69.5" textLength="108.0" lengthAdjust="spacingAndGlyphs" stroke="#fff" stroke-width="1.4">cm</text>
</g>
<g transform="translate(1470.0,1729.5) rotate(0.00)" fill="#000">
<path transform="translate(0.0,0)" d="M16,0 L16,-40 L6,-39.2 L6,-46 L16.5,-49 L26.2,-49 L26.2,0 Z"/>
<text x="38.0" y="0" font-weight="700" stroke="#000" stroke-width="1.4" font-size="71.0" textLength="38.0" lengthAdjust="spacingAndGlyphs">3</text>
<text x="76.0" y="0" font-weight="700" stroke="#000" stroke-width="1.4" font-size="71.0" textLength="38.0" lengthAdjust="spacingAndGlyphs">2</text>
<text x="116.0" y="0" font-size="69.5" textLength="108.0" lengthAdjust="spacingAndGlyphs" stroke="#fff" stroke-width="1.4">cm</text>
</g>
<path d="M356.9,1401.6C359.6,1418.0 359.8,1435.0 365.2,1450.7C371.7,1469.8 381.1,1488.0 392.2,1504.8C402.8,1520.8 414.0,1537.4 429.6,1548.4C446.8,1560.5 468.5,1564.3 487.9,1572.2L487.9,1629.6 L703.3,1629.6 L703.3,1442.4 Q703.3,1401.6 662.6,1401.6 Z" fill="#666"/>
<path d="M306.9,1474.8C316.0,1487.6 323.2,1501.8 334.0,1513.1C344.9,1524.5 357.6,1534.6 371.4,1542.2C385.6,1550.0 401.4,1554.8 417.2,1558.8C440.4,1564.8 464.3,1567.7 487.9,1572.2L487.9,1646.2 L306.9,1646.2 Z" fill="#666"/>
<use href="#st" transform="translate(399.7,1427.8) scale(0.58)" fill="#fff"/>
<use href="#st" transform="translate(449.6,1416.2) scale(0.58)" fill="#fff"/>
<use href="#st" transform="translate(492.9,1427.0) scale(0.28)" fill="#fff"/>
<use href="#st" transform="translate(522.4,1409.9) scale(0.28)" fill="#fff"/>
<use href="#st" transform="translate(544.0,1428.7) scale(0.95)" fill="#fff"/>
<use href="#st" transform="translate(584.8,1436.1) scale(0.58)" fill="#fff"/>
<use href="#st" transform="translate(595.2,1419.5) scale(0.28)" fill="#fff"/>
<use href="#st" transform="translate(632.6,1419.5) scale(0.58)" fill="#fff"/>
<use href="#st" transform="translate(647.2,1430.7) scale(0.28)" fill="#fff"/>
<use href="#st" transform="translate(673.0,1434.1) scale(0.95)" fill="#fff"/>
<use href="#st" transform="translate(430.9,1450.7) scale(0.95)" fill="#fff"/>
<use href="#st" transform="translate(465.0,1440.3) scale(0.58)" fill="#fff"/>
<use href="#st" transform="translate(470.4,1457.8) scale(0.58)" fill="#fff"/>
<use href="#st" transform="translate(501.6,1451.5) scale(0.28)" fill="#fff"/>
<use href="#st" transform="translate(513.7,1449.0) scale(0.58)" fill="#fff"/>
<use href="#st" transform="translate(564.0,1443.6) scale(0.28)" fill="#fff"/>
<use href="#st" transform="translate(577.3,1444.5) scale(0.28)" fill="#fff"/>
<use href="#st" transform="translate(623.0,1440.3) scale(0.58)" fill="#fff"/>
<use href="#st" transform="translate(598.5,1454.9) scale(0.28)" fill="#fff"/>
<use href="#st" transform="translate(681.3,1465.3) scale(0.28)" fill="#fff"/>
<use href="#st" transform="translate(395.5,1462.4) scale(0.28)" fill="#fff"/>
<use href="#st" transform="translate(541.1,1464.0) scale(0.58)" fill="#fff"/>
<use href="#st" transform="translate(576.0,1471.5) scale(0.95)" fill="#fff"/>
<use href="#st" transform="translate(611.8,1481.9) scale(0.58)" fill="#fff"/>
<use href="#st" transform="translate(653.0,1469.4) scale(0.58)" fill="#fff"/>
<use href="#st" transform="translate(429.6,1482.3) scale(0.58)" fill="#fff"/>
<use href="#st" transform="translate(478.7,1484.0) scale(0.58)" fill="#fff"/>
<use href="#st" transform="translate(492.4,1484.0) scale(0.58)" fill="#fff"/>
<use href="#st" transform="translate(522.8,1498.1) scale(0.58)" fill="#fff"/>
<use href="#st" transform="translate(549.4,1499.4) scale(0.28)" fill="#fff"/>
<use href="#st" transform="translate(558.6,1496.0) scale(0.58)" fill="#fff"/>
<use href="#st" transform="translate(621.8,1497.7) scale(0.28)" fill="#fff"/>
<use href="#st" transform="translate(664.6,1501.4) scale(0.58)" fill="#fff"/>
<use href="#st" transform="translate(408.0,1499.8) scale(0.58)" fill="#fff"/>
<use href="#st" transform="translate(452.1,1505.2) scale(0.58)" fill="#fff"/>
<use href="#st" transform="translate(418.8,1515.6) scale(0.58)" fill="#fff"/>
<use href="#st" transform="translate(492.0,1521.4) scale(0.95)" fill="#fff"/>
<use href="#st" transform="translate(532.4,1528.9) scale(0.58)" fill="#fff"/>
<use href="#st" transform="translate(552.3,1524.7) scale(0.28)" fill="#fff"/>
<use href="#st" transform="translate(577.7,1521.4) scale(0.95)" fill="#fff"/>
<use href="#st" transform="translate(590.6,1512.3) scale(0.28)" fill="#fff"/>
<use href="#st" transform="translate(623.0,1527.7) scale(0.58)" fill="#fff"/>
<use href="#st" transform="translate(648.8,1537.2) scale(0.95)" fill="#fff"/>
<use href="#st" transform="translate(680.0,1533.1) scale(0.28)" fill="#fff"/>
<use href="#st" transform="translate(453.8,1529.7) scale(0.28)" fill="#fff"/>
<use href="#st" transform="translate(499.5,1540.1) scale(0.28)" fill="#fff"/>
<use href="#st" transform="translate(324.8,1520.6) scale(0.28)" fill="#fff"/>
<use href="#st" transform="translate(342.3,1537.2) scale(0.58)" fill="#fff"/>
<use href="#st" transform="translate(324.8,1550.5) scale(0.58)" fill="#fff"/>
<use href="#st" transform="translate(342.3,1572.2) scale(0.95)" fill="#fff"/>
<use href="#st" transform="translate(368.5,1561.3) scale(0.28)" fill="#fff"/>
<use href="#st" transform="translate(374.3,1565.1) scale(0.28)" fill="#fff"/>
<use href="#st" transform="translate(399.3,1565.5) scale(0.58)" fill="#fff"/>
<use href="#st" transform="translate(382.6,1591.3) scale(0.58)" fill="#fff"/>
<use href="#st" transform="translate(351.4,1603.8) scale(0.28)" fill="#fff"/>
<use href="#st" transform="translate(426.7,1584.6) scale(0.28)" fill="#fff"/>
<polygon points="265.4,1654.5 537.8,1708.6 535.7,1756.4 267.4,1696.1" fill="#fcfcfc" stroke="#666" stroke-width="1.5"/>
<polygon points="537.8,1708.6 764.5,1612.9 766.5,1650.3 537.8,1756.4" fill="#fcfcfc" stroke="#666" stroke-width="1.5"/>
<polygon points="265.4,1654.5 448.4,1600.4 764.5,1610.8 537.8,1708.6" fill="#ed1c24"/>
<polyline points="267.4,1694.4 535.7,1755.2 766.5,1649.5" fill="none" stroke="#666" stroke-width="5"/>
<ellipse cx="537.0" cy="1732.7" rx="3.5" ry="23" fill="#666"/>
<polyline points="261.2,1714.8 535.7,1781.4 776.9,1664.9" fill="none" stroke="#ed1c24" stroke-width="4.5" stroke-linejoin="round" stroke-linecap="round"/>
<polyline points="294.5,1707.7 261.2,1714.8 275.8,1739.8" fill="none" stroke="#ed1c24" stroke-width="4.5" stroke-linejoin="round" stroke-linecap="round"/>
<polyline points="747.8,1667.0 776.9,1664.9 766.5,1694.0" fill="none" stroke="#ed1c24" stroke-width="4.5" stroke-linejoin="round" stroke-linecap="round"/>
<path d="M452.5,1588.0C460.0,1579.9 469.9,1574.5 479.6,1569.2C492.9,1562.0 507.1,1556.3 521.1,1550.5C526.5,1548.3 532.0,1545.5 537.8,1545.5C546.3,1545.5 554.4,1548.9 562.7,1550.5C576.6,1553.3 590.6,1555.5 604.3,1558.8C616.3,1561.7 631.7,1559.9 639.7,1569.2C644.3,1574.7 635.2,1584.0 629.3,1588.0C612.9,1599.1 592.5,1603.2 575.2,1612.9C570.1,1615.8 568.4,1624.0 562.7,1625.4C558.2,1626.5 554.5,1621.1 550.3,1619.2C540.6,1614.8 531.3,1609.7 521.1,1606.7C507.6,1602.7 493.5,1600.5 479.6,1598.4C471.3,1597.1 462.4,1599.3 454.6,1596.3C451.9,1595.3 450.6,1590.1 452.5,1588.0Z" fill="#fff" stroke="#ddd" stroke-width="1.5"/>
<path d="M573.1,1606.7C580.5,1597.1 593.4,1593.3 604.3,1588.0C617.8,1581.4 631.2,1573.9 645.9,1571.3C659.6,1568.9 673.7,1571.7 687.5,1573.4C701.5,1575.2 715.4,1578.1 729.1,1581.7C741.8,1585.1 759.2,1583.3 766.5,1594.2C771.2,1601.1 757.1,1608.7 749.9,1612.9C734.4,1622.1 716.5,1626.5 700.0,1633.7C695.7,1635.6 692.1,1640.3 687.5,1640.0C682.5,1639.5 679.8,1633.2 675.0,1631.6C658.8,1626.2 642.0,1622.2 625.1,1619.2C611.4,1616.7 597.1,1618.2 583.5,1615.0C579.2,1614.0 570.4,1610.2 573.1,1606.7Z" fill="#fff" stroke="#ddd" stroke-width="1.5"/>
<path d="M573.1,1596.3 Q591.9,1575.6 618.9,1573.4 Q597.9,1585.6 573.1,1596.3 Z" fill="#666"/>
<path d="M695.8,1615.0 Q714.5,1594.4 741.6,1594.2 Q720.5,1604.4 695.8,1615.0 Z" fill="#666"/>
<text x="783" y="1620" font-size="74" font-weight="700" fill="#666" textLength="333" lengthAdjust="spacingAndGlyphs">206 x 140</text>
</svg>
</body></html>
